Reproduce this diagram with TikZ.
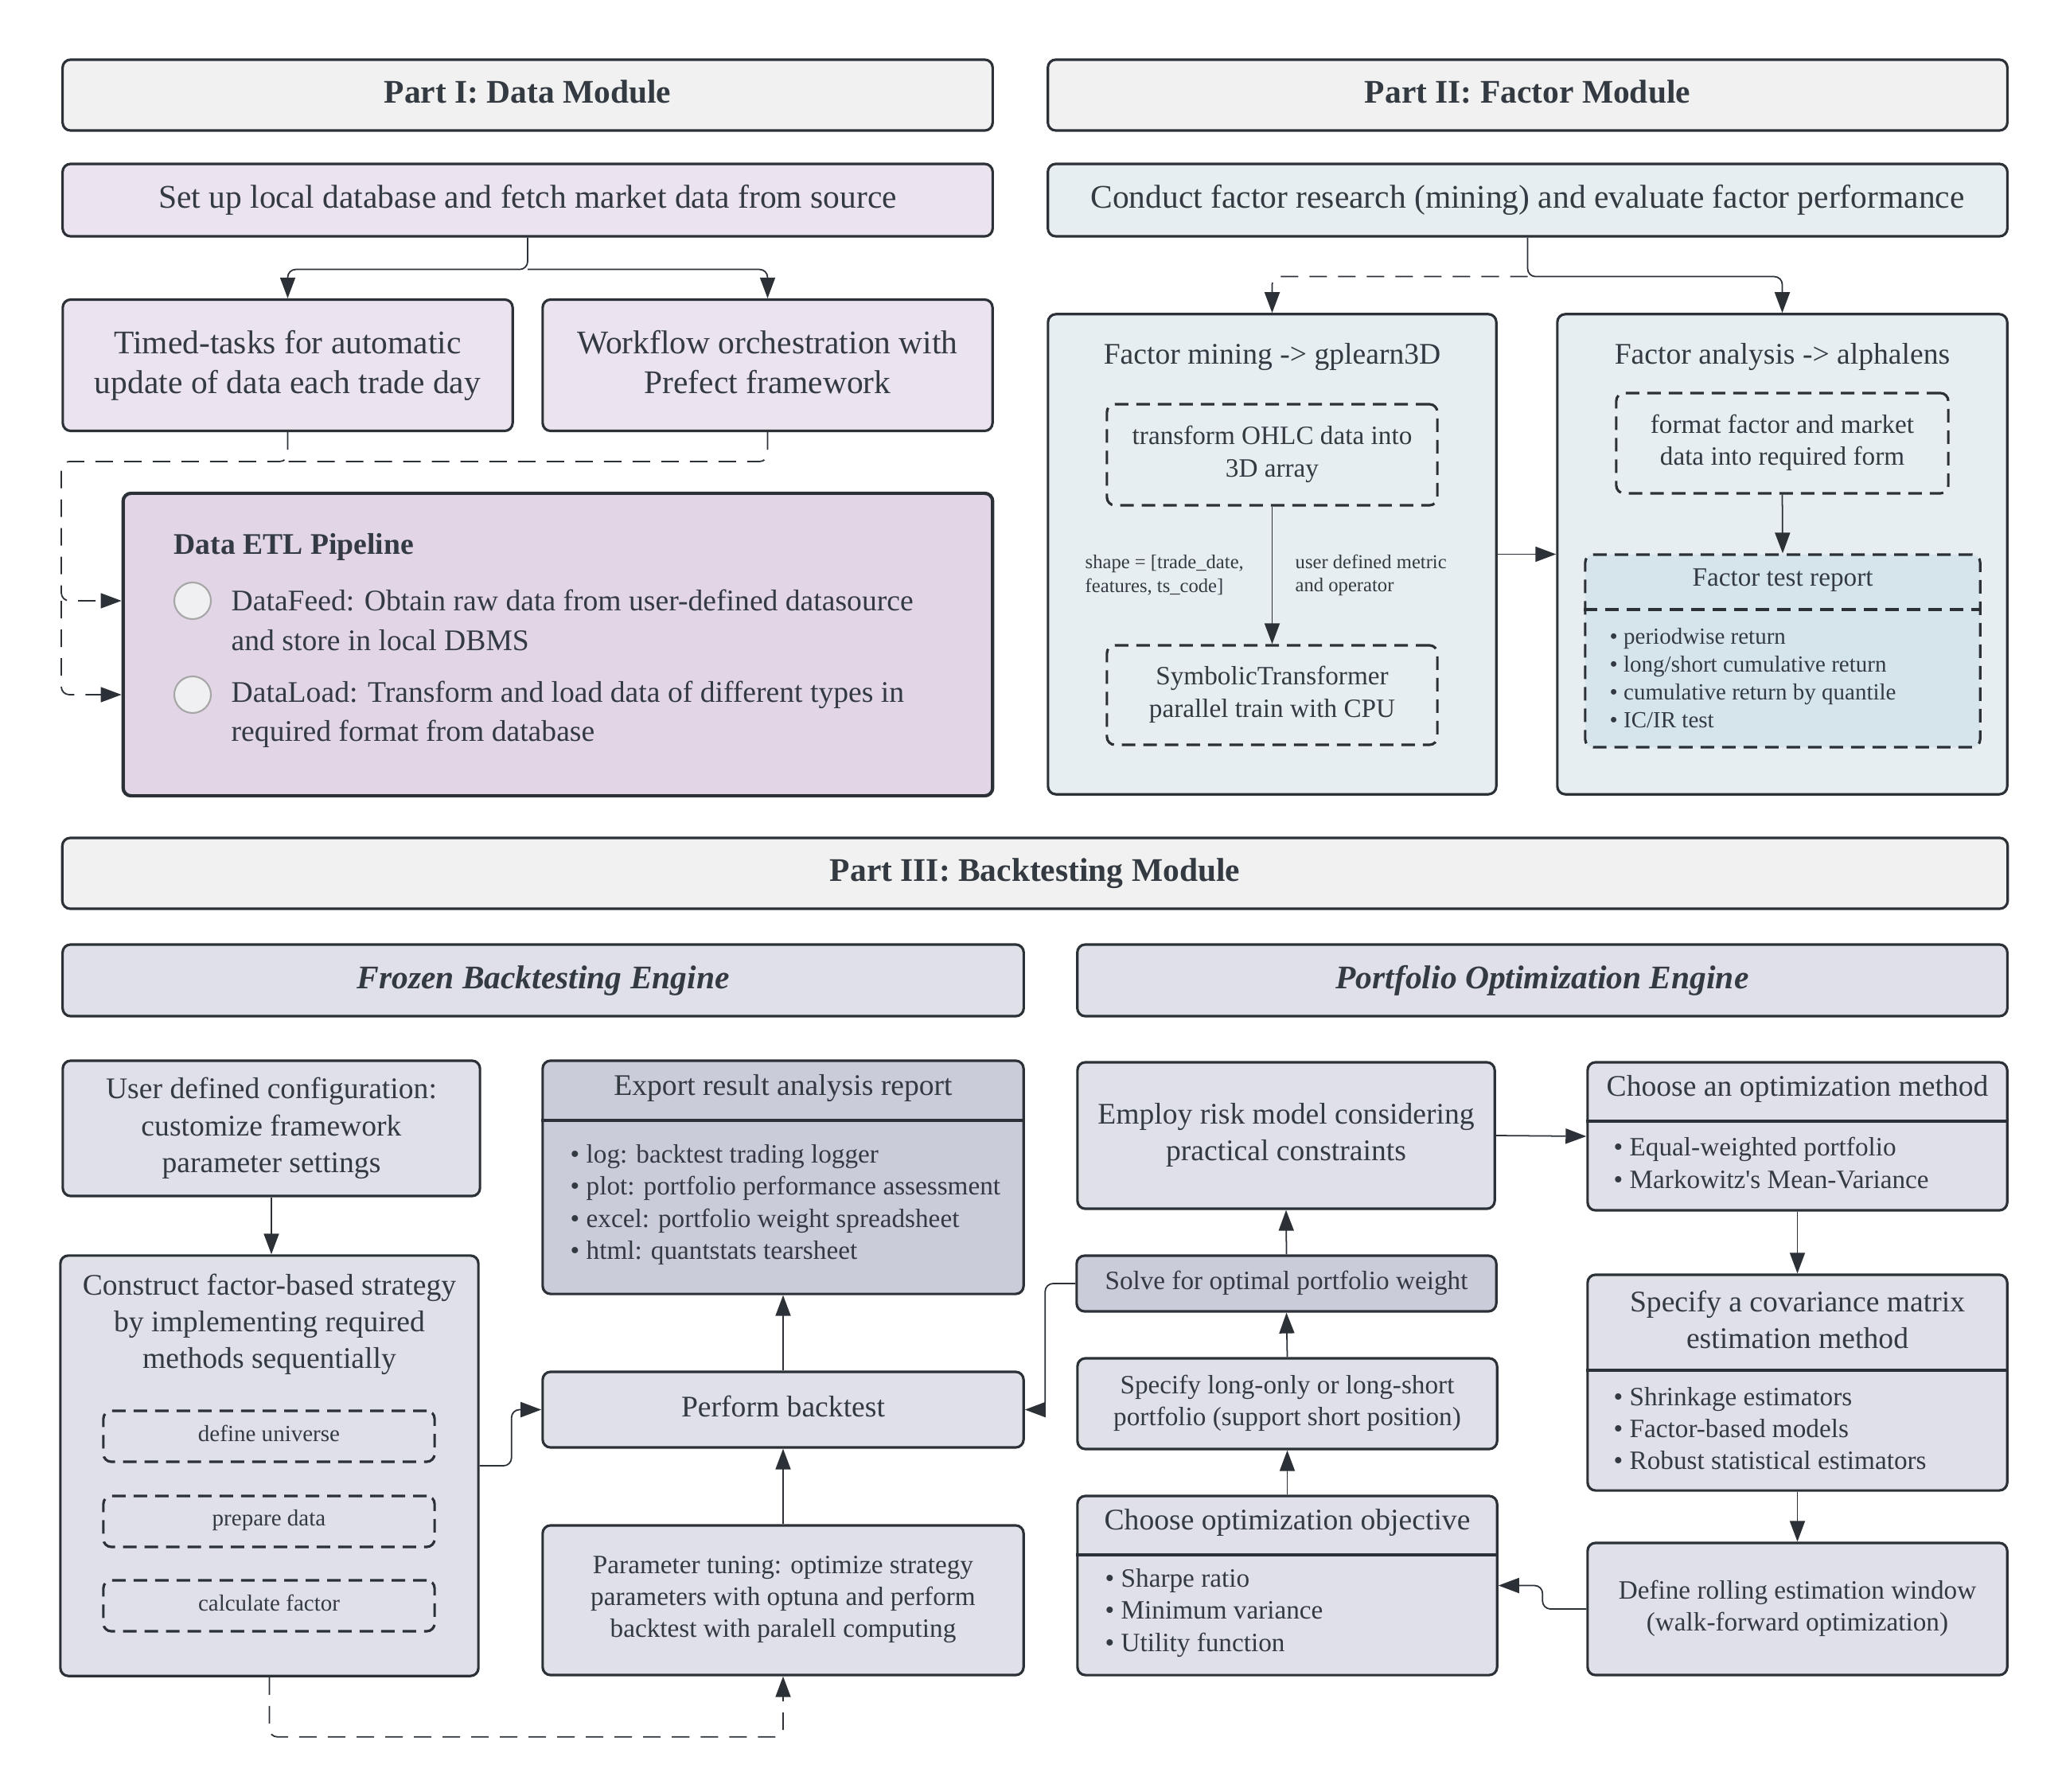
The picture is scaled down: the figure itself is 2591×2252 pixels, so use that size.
\documentclass[tikz,border=0pt]{standalone}
\usepackage{fontspec}
\setmainfont{Liberation Serif}
\usetikzlibrary{arrows.meta}

\definecolor{ink}{HTML}{343A42}
\definecolor{edge}{HTML}{2C3138}
\definecolor{hdrfill}{HTML}{F1F1F1}
\definecolor{datafill}{HTML}{EBE3EE}
\definecolor{etlfill}{HTML}{E2D6E6}
\definecolor{factfill}{HTML}{E7EEF2}
\definecolor{reportfill}{HTML}{D6E4EB}
\definecolor{btfill}{HTML}{E0E0E9}
\definecolor{btdark}{HTML}{CACCD9}
\definecolor{dotfill}{HTML}{F0F0F2}

\newcommand\txtL{\fontsize{11.8}{14.2}\selectfont}
\newcommand\txtE{\fontsize{10.7}{14}\selectfont}
\newcommand\txtM{\fontsize{10.7}{13.1}\selectfont}
\newcommand\txtS{\fontsize{9.45}{11.4}\selectfont}
\newcommand\txtXS{\fontsize{8.25}{10}\selectfont}
\newcommand\txtT{\fontsize{7}{8.5}\selectfont}

\begin{document}
\begin{tikzpicture}[x=0.01cm,y=-0.01cm,
    >={Triangle[length=0.26cm,width=0.19cm]},
    every node/.style={text=ink},
    box/.style={rectangle,draw=edge,line width=0.9pt,rounded corners=0.1cm,align=center,inner sep=0pt,text depth=2.4pt},
    hdrbox/.style={box,fill=hdrfill,font=\txtL\bfseries},
    databox/.style={box,fill=datafill,font=\txtL},
    etlbox/.style={box,fill=etlfill,line width=1.2pt},
    factbox/.style={box,fill=factfill},
    dashbox/.style={box,dash pattern=on 0.17cm off 0.1cm},
    btbox/.style={box,fill=btfill},
    darkbox/.style={box,fill=btdark},
    dot/.style={circle,draw=black!35,fill=dotfill,line width=0.6pt,minimum size=0.46cm,inner sep=0pt},
    txt/.style={inner sep=0pt,align=center},
    divline/.style={draw=edge,line width=0.9pt},
    link/.style={->,draw=edge,line width=0.5pt,rounded corners=0.1cm},
    dlink/.style={link,dash pattern=on 0.22cm off 0.14cm}]

    \useasboundingbox (0,0) rectangle (2591,2252);

    % Part I
    \draw (663,119.5) node (partone) [hdrbox,minimum width=11.68cm,minimum height=0.89cm] {Part I: Data Module};
    \draw (663,251.5) node (setup) [databox,minimum width=11.68cm,minimum height=0.91cm] {Set up local database and fetch market data from source};
    \draw (361.5,459) node (timed) [databox,minimum width=5.65cm,minimum height=1.65cm] {Timed-tasks for automatic\\update of data each trade day};
    \draw (964.5,459) node (workflow) [databox,minimum width=5.65cm,minimum height=1.65cm] {Workflow orchestration with\\Prefect framework};
    \draw (701,810) node (etl) [etlbox,minimum width=10.92cm,minimum height=3.80cm] {};
    \draw (218,687) node (etltitle) [txt,anchor=west,font=\txtE\bfseries] {Data ETL Pipeline};
    \draw (242,755) node (feeddot) [dot] {};
    \draw (242,873) node (loaddot) [dot] {};
    \draw (290,779.5) node (feed) [txt,anchor=west,align=left,font=\txtE] {DataFeed: Obtain raw data from user-defined datasource\\and store in local DBMS};
    \draw (290,897.5) node (load) [txt,anchor=west,align=left,font=\txtE] {DataLoad: Transform and load data of different types in\\required format from database};

    \draw [link] (setup.south) -- ++(0,40) -| (timed.north);
    \draw [link] (setup.south) ++(0,40) -| (workflow.north);
    \coordinate (bus) at (77,580);
    \draw [dlink,-] (workflow.south) |- (timed.south |- bus);
    \draw [dlink] (timed.south) |- (bus) |- (etl.west |- feeddot);
    \draw [dlink] (bus |- feeddot) |- (etl.west |- loaddot);

    % Part II
    \draw (1919.5,119.5) node (parttwo) [hdrbox,minimum width=12.05cm,minimum height=0.89cm] {Part II: Factor Module};
    \draw (1919.5,251.5) node (conduct) [factbox,font=\txtL,minimum width=12.05cm,minimum height=0.91cm] {Conduct factor research (mining) and evaluate factor performance};
    \draw (1598.5,696.5) node (mining) [factbox,minimum width=5.63cm,minimum height=6.03cm] {};
    \draw (2239.5,696.5) node (analysis) [factbox,minimum width=5.65cm,minimum height=6.03cm] {};
    \draw (1598.5,449) node (miningtitle) [txt,font=\txtM] {Factor mining -> gplearn3D};
    \draw (2239.5,449) node (analysistitle) [txt,font=\txtM] {Factor analysis -> alphalens};
    \draw (1598.5,571.5) node (ohlc) [dashbox,font=\txtS,minimum width=4.15cm,minimum height=1.27cm] {transform OHLC data into\\3D array};
    \draw (1598.5,873.5) node (symb) [dashbox,font=\txtS,minimum width=4.15cm,minimum height=1.25cm] {SymbolicTransformer\\parallel train with CPU};
    \draw (1363,723) node (shapelbl) [txt,anchor=west,align=left,font=\txtT] {shape = [trade\_date,\\features, ts\_code]};
    \draw (1627,723) node (metriclbl) [txt,anchor=west,align=left,font=\txtT] {user defined metric\\and operator};
    \draw (2239.5,557) node (format) [dashbox,font=\txtS,minimum width=4.17cm,minimum height=1.26cm] {format factor and market\\data into required form};
    \draw (2240,818) node (report) [dashbox,fill=reportfill,minimum width=4.96cm,minimum height=2.42cm] {};
    \draw (2240,729) node (reporttitle) [txt,font=\txtS] {Factor test report};
    \draw [divline,dash pattern=on 0.17cm off 0.1cm] (report.west |- 0,766) -- (report.east |- 0,766);
    \draw (2022,852) node (reportlist) [txt,anchor=west,align=left,font=\txtXS] {\textbullet\ periodwise return\\\textbullet\ long/short cumulative return\\\textbullet\ cumulative return by quantile\\\textbullet\ IC/IR test};

    \draw [link] (conduct.south) -- ++(0,49) -| (analysis.north);
    \draw [dlink] (conduct.south) ++(0,49) -| (mining.north);
    \draw [link] (ohlc.south) -- (symb.north);
    \draw [link] (mining.east) -- (analysis.west);
    \draw [link] (format.south) -- (report.north);

    % Part III
    \draw (1300.5,1097.5) node (partthree) [hdrbox,minimum width=24.43cm,minimum height=0.89cm] {Part III: Backtesting Module};
    \draw (682.5,1232) node (frozen) [btbox,font=\txtL\bfseries\itshape,minimum width=12.07cm,minimum height=0.90cm] {Frozen Backtesting Engine};
    \draw (1938,1232) node (portopt) [btbox,font=\txtL\bfseries\itshape,minimum width=11.68cm,minimum height=0.90cm] {Portfolio Optimization Engine};

    % frozen engine
    \draw (341,1418) node (config) [btbox,font=\txtM,minimum width=5.24cm,minimum height=1.70cm] {User defined configuration:\\customize framework\\parameter settings};
    \draw (338.5,1842) node (construct) [btbox,minimum width=5.25cm,minimum height=5.28cm] {};
    \draw (338.5,1664) node (constructtitle) [txt,font=\txtM] {Construct factor-based strategy\\by implementing required\\methods sequentially};
    \draw (338,1805) node (universe) [dashbox,font=\txtXS,minimum width=4.16cm,minimum height=0.64cm] {define universe};
    \draw (338,1912) node (prepare) [dashbox,font=\txtXS,minimum width=4.16cm,minimum height=0.64cm] {prepare data};
    \draw (338,2018) node (calcfactor) [dashbox,font=\txtXS,minimum width=4.16cm,minimum height=0.64cm] {calculate factor};
    \draw (984,1479.5) node (export) [darkbox,minimum width=6.04cm,minimum height=2.93cm] {};
    \draw (984,1367) node (exporttitle) [txt,font=\txtM] {Export result analysis report};
    \draw [divline] (export.west |- 0,1408) -- (export.east |- 0,1408);
    \draw (716,1514) node (exportlist) [txt,anchor=west,align=left,font=\txtS] {\textbullet\ log: backtest trading logger\\\textbullet\ plot: portfolio performance assessment\\\textbullet\ excel: portfolio weight spreadsheet\\\textbullet\ html: quantstats tearsheet};
    \draw (984,1771.5) node (perform) [btbox,font=\txtM,minimum width=6.04cm,minimum height=0.95cm] {Perform backtest};
    \draw (984,2011) node (tuning) [btbox,font=\txtS,minimum width=6.04cm,minimum height=1.88cm] {Parameter tuning: optimize strategy\\parameters with optuna and perform\\backtest with paralell computing};

    % optimization engine
    \draw (1616,1427) node (riskmodel) [btbox,font=\txtM,minimum width=5.24cm,minimum height=1.84cm] {Employ risk model considering\\practical constraints};
    \draw (2258.5,1428) node (method) [btbox,minimum width=5.27cm,minimum height=1.86cm] {};
    \draw (2258.5,1368) node (methodtitle) [txt,font=\txtM] {Choose an optimization method};
    \draw [divline] (method.west |- 0,1409) -- (method.east |- 0,1409);
    \draw (2027,1461.5) node (methodlist) [txt,anchor=west,align=left,font=\txtS] {\textbullet\ Equal-weighted portfolio\\\textbullet\ Markowitz\textquotesingle s Mean-Variance};
    \draw (1616.5,1613) node (solve) [darkbox,font=\txtS,minimum width=5.27cm,minimum height=0.70cm] {Solve for optimal portfolio weight};
    \draw (1617.5,1764) node (longshort) [btbox,font=\txtS,minimum width=5.27cm,minimum height=1.14cm] {Specify long-only or long-short\\portfolio (support short position)};
    \draw (1617.5,1992.5) node (objective) [btbox,minimum width=5.27cm,minimum height=2.25cm] {};
    \draw (1617.5,1913) node (objectivetitle) [txt,font=\txtM] {Choose optimization objective};
    \draw [divline] (objective.west |- 0,1954) -- (objective.east |- 0,1954);
    \draw (1388,2027) node (objectivelist) [txt,anchor=west,align=left,font=\txtS] {\textbullet\ Sharpe ratio\\\textbullet\ Minimum variance\\\textbullet\ Utility function};
    \draw (2258.5,1737.5) node (covariance) [btbox,minimum width=5.27cm,minimum height=2.71cm] {};
    \draw (2258.5,1658.5) node (covtitle) [txt,font=\txtM] {Specify a covariance matrix\\estimation method};
    \draw [divline] (covariance.west |- 0,1722) -- (covariance.east |- 0,1722);
    \draw (2027,1795) node (covlist) [txt,anchor=west,align=left,font=\txtS] {\textbullet\ Shrinkage estimators\\\textbullet\ Factor-based models\\\textbullet\ Robust statistical estimators};
    \draw (2258.5,2022) node (rolling) [btbox,font=\txtS,minimum width=5.27cm,minimum height=1.66cm] {Define rolling estimation window\\(walk-forward optimization)};

    \draw [link] (config.south) -- (config.south |- construct.north);
    \draw [link] (construct.east) -- ++(40,0) |- (perform.west);
    \draw [link] (perform.north) -- (export.south);
    \draw [link] (tuning.north) -- (perform.south);
    \draw [dlink] (construct.south) -- ++(0,75) -| (tuning.south);
    \draw [link] (solve.west) -- ++(-38,0) |- (perform.east);
    \draw [link] (riskmodel.east) -- (method.west);
    \draw [link] (method.south) -- (covariance.north);
    \draw [link] (covariance.south) -- (rolling.north);
    \draw [link] (rolling.west) -- ++(-55,0) |- (objective.east);
    \draw [link] (objective.north) -- (longshort.south);
    \draw [link] (longshort.north) -- (solve.south);
    \draw [link] (solve.north) -- (riskmodel.south);
\end{tikzpicture}
\end{document}
